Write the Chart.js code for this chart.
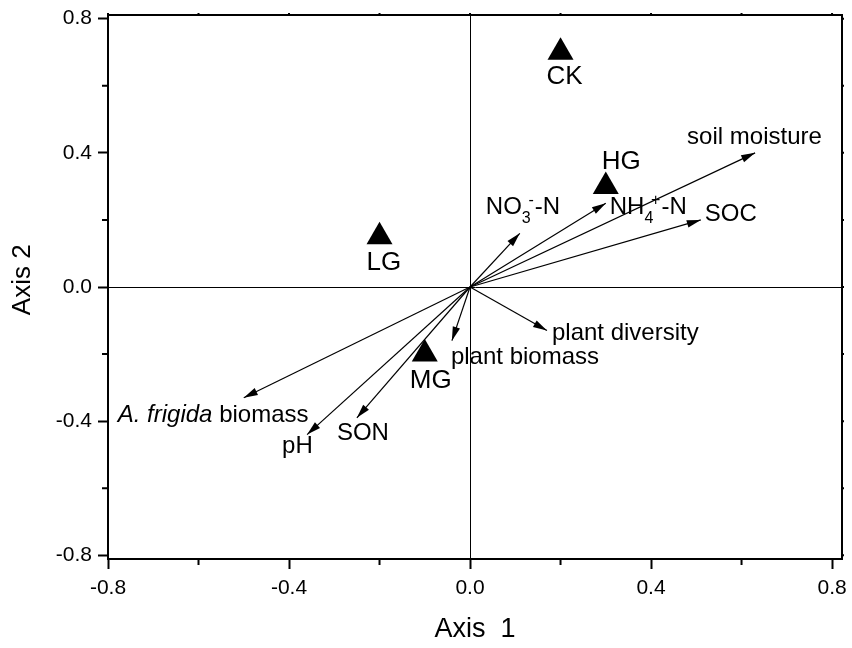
<!DOCTYPE html>
<html><head><meta charset="utf-8">
<script src="https://cdn.jsdelivr.net/npm/chart.js@4/dist/chart.umd.min.js"></script>
<style>html,body{margin:0;padding:0;background:#fff;}#wrap{width:852px;height:648px;}</style>
</head><body><div id="wrap"><canvas id="c" width="852" height="648"></canvas></div>
<script>
// ---- data ----
const sampleNames = ['CK', 'HG', 'LG', 'MG'];
const sampleX = [0.20, 0.30, -0.20, -0.10];
const sampleY = [0.70, 0.30, 0.15, -0.20];

const varNames = ['soil moisture', 'SOC', 'NH4+-N', 'NO3--N', 'plant diversity', 'plant biomass', 'SON', 'pH', 'A. frigida biomass'];
const varX = [0.63, 0.51, 0.30, 0.11, 0.17, -0.04, -0.25, -0.36, -0.50];
const varY = [0.40, 0.20, 0.25, 0.16, -0.13, -0.16, -0.39, -0.44, -0.33];

const tickValues = [-0.8, -0.6, -0.4, -0.2, 0, 0.2, 0.4, 0.6, 0.8];
const tickLabels = ['-0.8', '-0.4', '0.0', '0.4', '0.8'];

// rich-text label parts (text, style)
const varLabelParts = [
  [['soil moisture', 'n']],
  [['SOC', 'n']],
  [['NH', 'n'], ['4', 'sub'], ['+', 'sup'], ['-N', 'n']],
  [['NO', 'n'], ['3', 'sub'], ['-', 'sup'], ['-N', 'n']],
  [['plant diversity', 'n']],
  [['plant biomass', 'n']],
  [['SON', 'n']],
  [['pH', 'n']],
  [['A. frigida', 'i'], [' biomass', 'n']]
];
// label layout: pixel offsets (left, baseline) from arrow tip / marker
const varLabelOffset = [[-68, -9], [4, 1], [4, 11], [-34, -19], [5, 9], [-1, 23], [-20, 22], [-25, 18], [-126, 24]];
const sampleLabelOffset = [[-14, 32], [-4, -17], [-13, 33], [-15, 34]];

const FONT = '"Liberation Sans", Arial, Helvetica, sans-serif';

function isMajor(v) { return tickLabels.includes(v.toFixed(1)) && Math.abs(Math.round(v * 10) % 4) === 0; }

function drawRich(ctx, parts, x, y, size) {
  let cx = x, subStart = x, subW = 0;
  const small = 16;
  for (const [t, st] of parts) {
    if (st === 'n' || st === 'i') {
      ctx.font = (st === 'i' ? 'italic ' : '') + size + 'px ' + FONT;
      ctx.fillText(t, cx, y);
      cx += ctx.measureText(t).width;
    } else if (st === 'sub') {
      ctx.font = small + 'px ' + FONT;
      ctx.fillText(t, cx, y + 9);
      subStart = cx; subW = ctx.measureText(t).width;
      cx += subW;
    } else if (st === 'sup') {
      ctx.font = small + 'px ' + FONT;
      const sx = subStart + subW * 0.75;
      ctx.fillText(t, sx, y - 9);
      cx = Math.max(cx, sx + ctx.measureText(t).width) + 1;
    }
  }
}

const arrowDatasets = varX.map((vx, i) => ({
  type: 'scatter',
  label: varNames[i],
  data: [{ x: 0, y: 0 }, { x: vx, y: varY[i] }],
  showLine: true,
  borderColor: '#000',
  borderWidth: 1.2,
  pointRadius: 0,
  pointHoverRadius: 0,
  order: 2
}));

const sampleDataset = {
  type: 'scatter',
  label: 'samples',
  data: sampleX.map((x, i) => ({ x: x, y: sampleY[i] })),
  pointStyle: 'triangle',
  pointRadius: 15,
  pointHoverRadius: 15,
  backgroundColor: '#000',
  borderColor: '#000',
  borderWidth: 0,
  order: 1
};

const decor = {
  id: 'decor',
  afterDatasetsDraw(chart) {
    const ctx = chart.ctx;
    const xs = chart.scales.x, ys = chart.scales.y;
    const a = chart.chartArea;
    ctx.save();
    // arrowheads
    ctx.fillStyle = '#000';
    chart.data.datasets.forEach((ds, di) => {
      if (ds.label === 'samples') return;
      const meta = chart.getDatasetMeta(di);
      const p0 = meta.data[0], p1 = meta.data[1];
      const ang = Math.atan2(p1.y - p0.y, p1.x - p0.x);
      const L = 14, W = 3.8;
      const bx = p1.x - L * Math.cos(ang), by = p1.y - L * Math.sin(ang);
      ctx.beginPath();
      ctx.moveTo(p1.x, p1.y);
      ctx.lineTo(bx - W * Math.sin(ang), by + W * Math.cos(ang));
      ctx.lineTo(bx + W * Math.sin(ang), by - W * Math.cos(ang));
      ctx.closePath();
      ctx.fill();
    });
    // variable labels
    ctx.fillStyle = '#000';
    ctx.textBaseline = 'alphabetic';
    ctx.textAlign = 'left';
    chart.data.datasets.forEach((ds, di) => {
      if (ds.label === 'samples') return;
      const idx = varNames.indexOf(ds.label);
      const p1 = chart.getDatasetMeta(di).data[1];
      const off = varLabelOffset[idx];
      drawRich(ctx, varLabelParts[idx], p1.x + off[0], p1.y + off[1], 24);
    });
    // sample labels
    const sdi = chart.data.datasets.findIndex(d => d.label === 'samples');
    const smeta = chart.getDatasetMeta(sdi);
    ctx.font = '26px ' + FONT;
    sampleNames.forEach((n, i) => {
      const p = smeta.data[i];
      ctx.fillText(n, p.x + sampleLabelOffset[i][0], p.y + sampleLabelOffset[i][1]);
    });
    // frame (top/right) + minor ticks + tiny outer ticks
    ctx.strokeStyle = '#000';
    ctx.lineWidth = 2;
    ctx.beginPath();
    ctx.moveTo(a.left, a.top); ctx.lineTo(a.right, a.top); ctx.lineTo(a.right, a.bottom);
    ctx.stroke();
    ctx.beginPath();
    tickValues.forEach(v => {
      const px = xs.getPixelForValue(v), py = ys.getPixelForValue(v);
      if (!isMajor(v)) {
        ctx.moveTo(px, a.bottom); ctx.lineTo(px, a.bottom + 6);
        ctx.moveTo(a.left, py); ctx.lineTo(a.left - 6, py);
      }
      ctx.moveTo(px, a.top); ctx.lineTo(px, a.top - 2);
      ctx.moveTo(a.right, py); ctx.lineTo(a.right + 2, py);
    });
    ctx.stroke();
    ctx.restore();
  }
};

const gridCfg = {
  drawOnChartArea: true,
  color: c => (c.tick && Math.abs(c.tick.value) < 1e-9) ? '#000' : 'rgba(0,0,0,0)',
  lineWidth: 1,
  tickLength: 10,
  tickWidth: 2,
  tickColor: c => (c.tick && isMajor(c.tick.value)) ? '#000' : 'rgba(0,0,0,0)'
};

new Chart(document.getElementById('c'), {
  type: 'scatter',
  data: { datasets: [...arrowDatasets, sampleDataset] },
  options: {
    responsive: false,
    animation: false,
    devicePixelRatio: 1,
    layout: { autoPadding: false, padding: { top: 15, right: 10, left: 0, bottom: 0 } },
    plugins: { legend: { display: false }, tooltip: { enabled: false } },
    scales: {
      x: {
        type: 'linear', min: -0.8, max: 0.822,
        afterBuildTicks: s => { s.ticks = tickValues.map(v => ({ value: v })); },
        afterFit: s => { s.height = 89; s.paddingLeft = 0; s.paddingRight = 0; },
        ticks: {
          autoSkip: false, maxRotation: 0, padding: 7, color: '#000',
          font: { family: FONT, size: 21 },
          callback: v => isMajor(v) ? v.toFixed(1) : ''
        },
        grid: gridCfg,
        border: { color: '#000', width: 2 },
        title: { display: true, text: 'Axis  1', color: '#000', font: { family: FONT, size: 27 }, padding: { top: 0, bottom: 2 } }
      },
      y: {
        type: 'linear', min: -0.811, max: 0.811,
        afterBuildTicks: s => { s.ticks = tickValues.map(v => ({ value: v })); },
        afterFit: s => { s.width = 108; s.paddingTop = 0; s.paddingBottom = 0; },
        ticks: {
          autoSkip: false, padding: 6, color: '#000',
          font: { family: FONT, size: 21 },
          callback: v => isMajor(v) ? v.toFixed(1) : ''
        },
        grid: gridCfg,
        border: { color: '#000', width: 2 },
        title: { display: true, text: '  Axis 2', color: '#000', font: { family: FONT, size: 26 }, padding: { top: 7, bottom: 0 } }
      }
    }
  },
  plugins: [decor]
});
</script></body></html>
